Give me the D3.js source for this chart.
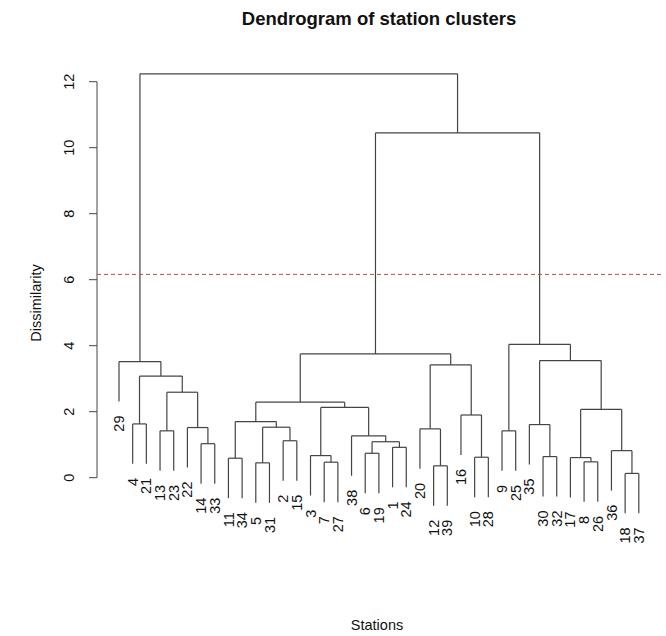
<!DOCTYPE html>
<html>
<head>
<meta charset="utf-8">
<script src="https://cdn.jsdelivr.net/npm/d3@7"></script>
<style>
  body { margin: 0; background: #fff; }
  text { font-family: "Liberation Sans", Arial, sans-serif; fill: #111; }
</style>
</head>
<body>
<div class="chart"></div>
<script>
const svgWidth = 666;
const svgHeight = 636;

// hclust style merge table: negative = station, positive = row (1-based)
const mergeLeft = [-18, -12, -5, -7, -8, -11, -17, -10, -30, -3, -6, -36, -1, -14, 11, -2, -38, -13, -9,
    -20, -22, 3, -35, -4, 6, -16, 7, 10, 25, 18, 24, 20, -29, 23, 29, 19, 35, 33];
const mergeRight = [-37, -39, -31, -27, -26, -34, 5, -28, -32, 4, -19, 1, -24, -33, 13, -15, 15, -23, -25,
    2, 14, 16, 9, -21, 22, 8, 12, 17, 28, 21, 30, 26, 31, 27, 32, 34, 36, 37];
const mergeHeight = [0.13, 0.36, 0.45, 0.47, 0.48, 0.59, 0.61, 0.62, 0.64, 0.67, 0.74, 0.82, 0.92, 1.03, 1.09,
    1.12, 1.27, 1.42, 1.42, 1.48, 1.52, 1.53, 1.61, 1.63, 1.70, 1.90, 2.07, 2.13, 2.29, 2.59, 3.08, 3.42,
    3.52, 3.55, 3.75, 4.04, 10.45, 12.24];
const yTicks = [0, 2, 4, 6, 8, 10, 12];
const cutHeight = 6.16;

const svg = d3.select(".chart")
    .append("svg")
    .attr("width", svgWidth)
    .attr("height", svgHeight);

const nMerge = mergeHeight.length;
const nLeaf = nMerge + 1;
const hang = 0.1 * (d3.max(mergeHeight) - d3.min(mergeHeight));

// leaf order: walk the tree left first
const leafOrder = [];
function walk(k) {
    if (k < 0) { leafOrder.push(-k); return; }
    walk(mergeLeft[k - 1]);
    walk(mergeRight[k - 1]);
}
walk(nMerge);

const x = d3.scaleLinear().domain([0, nLeaf - 1]).range([119, 638.8]);
const y = d3.scaleLinear().domain([0, 12]).range([477.7, 81.7]);

const leafIndex = {};
leafOrder.forEach((s, i) => leafIndex[s] = i);

// x position of a node (station or merge row)
const nodeX = {};
function posX(k) {
    if (k < 0) return x(leafIndex[-k]);
    if (nodeX[k] == null) nodeX[k] = (posX(mergeLeft[k - 1]) + posX(mergeRight[k - 1])) / 2;
    return nodeX[k];
}
function posH(k, parentH) {
    return k < 0 ? parentH - hang : mergeHeight[k - 1];
}

const segs = [];
for (let k = 1; k <= nMerge; k++) {
    const h = mergeHeight[k - 1];
    const a = mergeLeft[k - 1], b = mergeRight[k - 1];
    const xa = posX(a), xb = posX(b);
    segs.push([xa, y(posH(a, h)), xa, y(h)]);
    segs.push([xa, y(h), xb, y(h)]);
    segs.push([xb, y(h), xb, y(posH(b, h))]);
}

svg.append("g")
    .selectAll("line")
    .data(segs)
    .join("line")
    .attr("x1", d => d[0]).attr("y1", d => d[1])
    .attr("x2", d => d[2]).attr("y2", d => d[3])
    .attr("stroke", "#444")
    .attr("stroke-width", 1.2);

// leaf labels
const leafBottom = {};
for (let k = 1; k <= nMerge; k++) {
    [mergeLeft[k - 1], mergeRight[k - 1]].forEach(c => {
        if (c < 0) leafBottom[-c] = mergeHeight[k - 1] - hang;
    });
}
svg.append("g")
    .selectAll("text")
    .data(leafOrder)
    .join("text")
    .attr("transform", d => `translate(${x(leafIndex[d])},${y(leafBottom[d]) + 14}) rotate(-90)`)
    .attr("text-anchor", "end")
    .attr("dy", "0.35em")
    .style("font-size", "14.5px")
    .text(d => d);

// y axis
const axisG = svg.append("g");
axisG.append("line")
    .attr("x1", 97).attr("x2", 97)
    .attr("y1", y(0)).attr("y2", y(12))
    .attr("stroke", "#444");
axisG.selectAll("line.tick")
    .data(yTicks)
    .join("line")
    .attr("class", "tick")
    .attr("x1", 89).attr("x2", 97)
    .attr("y1", d => y(d)).attr("y2", d => y(d))
    .attr("stroke", "#444");
axisG.selectAll("text")
    .data(yTicks)
    .join("text")
    .attr("transform", d => `translate(74,${y(d)}) rotate(-90)`)
    .attr("text-anchor", "middle")
    .style("font-size", "14.5px")
    .text(d => d);

// cut line
svg.append("line")
    .attr("x1", 97).attr("x2", 662)
    .attr("y1", y(cutHeight)).attr("y2", y(cutHeight))
    .attr("stroke", "#b8553d")
    .attr("stroke-width", 1)
    .attr("stroke-dasharray", "4,3");

// titles
svg.append("text")
    .attr("x", 379).attr("y", 25)
    .attr("text-anchor", "middle")
    .style("font-size", "18.5px")
    .style("font-weight", "bold")
    .text("Dendrogram of station clusters");

svg.append("text")
    .attr("transform", "translate(41,303) rotate(-90)")
    .attr("text-anchor", "middle")
    .style("font-size", "14.5px")
    .text("Dissimilarity");

svg.append("text")
    .attr("x", 377).attr("y", 630)
    .attr("text-anchor", "middle")
    .style("font-size", "14.5px")
    .text("Stations");
</script>
</body>
</html>
